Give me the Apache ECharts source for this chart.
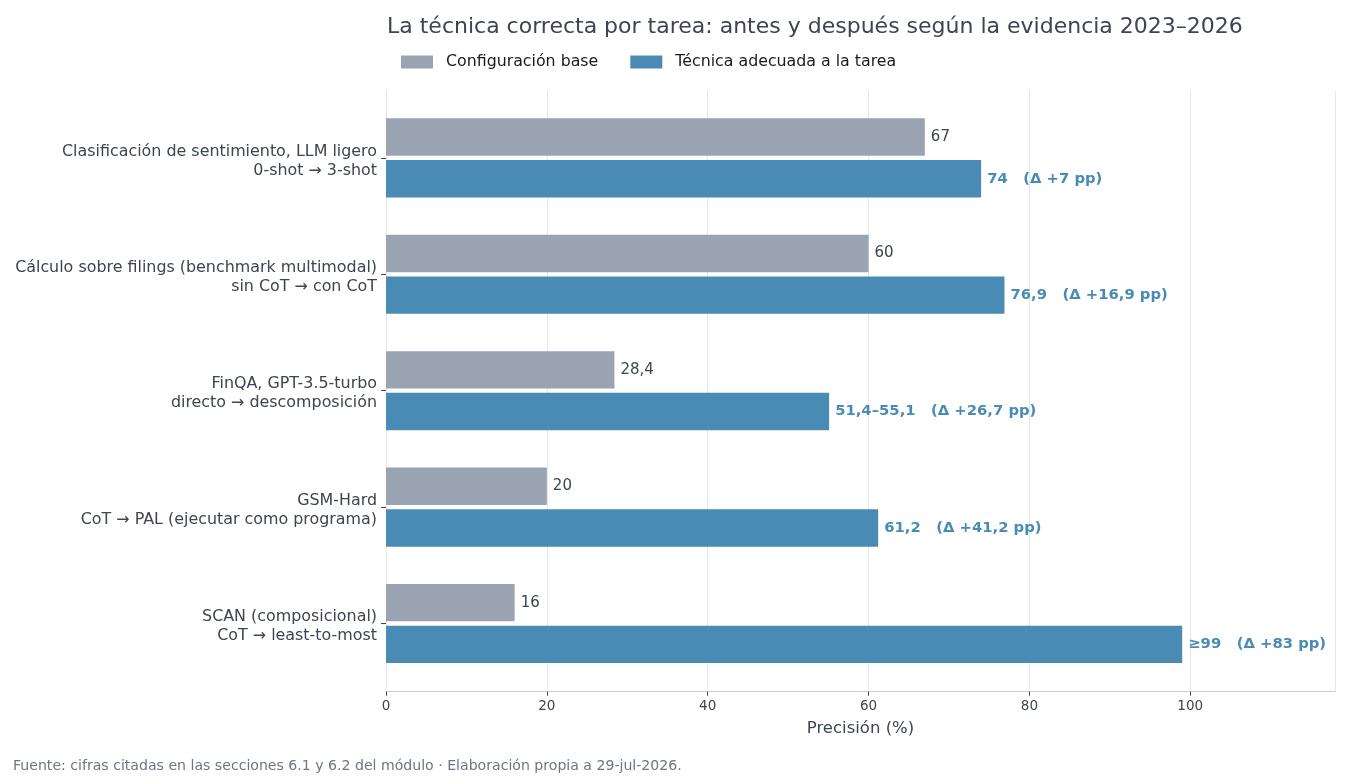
<!DOCTYPE html>
<html>
<head>
<meta charset="utf-8">
<script src="https://cdn.jsdelivr.net/npm/echarts@6/dist/echarts.min.js"></script>
<style>html,body{margin:0;padding:0;background:#fff}#c{width:1350px;height:780px}</style>
</head>
<body>
<div id="c"></div>
<script>
const categories = [
  "Clasificación de sentimiento, LLM ligero\n0-shot → 3-shot",
  "Cálculo sobre filings (benchmark multimodal)\nsin CoT → con CoT",
  "FinQA, GPT-3.5-turbo\ndirecto → descomposición",
  "GSM-Hard\nCoT → PAL (ejecutar como programa)",
  "SCAN (composicional)\nCoT → least-to-most"
];
const baseValues = [67, 60, 28.4, 20, 16];
const techValues = [74, 76.9, 55.1, 61.2, 99];
const baseLabels = ["67", "60", "28,4", "20", "16"];
const techLabels = ["74", "76,9", "51,4–55,1", "61,2", "≥99"];
const deltaLabels = ["+7", "+16,9", "+26,7", "+41,2", "+83"];
const xTicks = [0, 20, 40, 60, 80, 100];

const FONT = "DejaVu Sans";
const TXT = "#3d4452";
const GRAY = "#9aa3b2";
const BLUE = "#4a8bb5";

const chart = echarts.init(document.getElementById('c'));
chart.setOption({
  backgroundColor: '#ffffff',
  textStyle: { fontFamily: FONT },
  animation: false,
  title: {
    text: "La técnica correcta por tarea: antes y después según la evidencia 2023–2026",
    left: 382, top: 11,
    textStyle: { fontFamily: FONT, fontSize: 22, fontWeight: 'normal', color: TXT }
  },
  legend: {
    left: 401, top: 54, padding: 0,
    itemWidth: 32, itemHeight: 13, itemGap: 32,
    icon: 'rect',
    textStyle: { fontFamily: FONT, fontSize: 15.8, color: '#1a1a1a', padding: [0, 0, 0, 8] },
    data: ['Configuración base', 'Técnica adecuada a la tarea']
  },
  grid: [
    { left: 386, right: 15, top: 99.7, height: 582 },
    { left: 386, right: 15, top: 91, bottom: 88.3 }
  ],
  xAxis: [
    { gridIndex: 0, type: 'value', min: 0, max: 118, show: false, splitLine: { show: false } },
    {
      gridIndex: 1, type: 'value', min: 0, max: 118, interval: 20,
      name: 'Precisión (%)', nameLocation: 'middle', nameGap: 29,
      nameTextStyle: { fontFamily: FONT, fontSize: 16.5, color: TXT },
      axisLine: { show: true, lineStyle: { color: '#c9ccd4', width: 1 } },
      axisTick: { show: true, length: 4, lineStyle: { color: TXT } },
      axisLabel: { fontFamily: FONT, fontSize: 13.5, color: TXT, margin: 8, showMaxLabel: false,
        formatter: v => xTicks.includes(v) ? String(v) : '' },
      splitLine: { show: true, lineStyle: { color: '#e6e6ea', width: 1 } }
    }
  ],
  yAxis: [
    {
      gridIndex: 0, type: 'category', inverse: true, data: categories,
      axisLine: { show: false },
      axisTick: { show: true, alignWithLabel: true, length: 5, lineStyle: { color: TXT } },
      axisLabel: {
        margin: 9, align: 'right',
        formatter: v => '{s| }\n' + v.split('\n').map(l => '{a|' + l + '}').join('\n'),
        rich: {
          s: { fontSize: 4, lineHeight: 6 },
          a: { fontFamily: FONT, fontSize: 15.9, color: TXT, lineHeight: 19, align: 'right' }
        }
      }
    },
    { gridIndex: 1, type: 'value', show: false, min: 0, max: 1, splitLine: { show: false } }
  ],
  series: [
    {
      name: 'Configuración base', type: 'bar', xAxisIndex: 0, yAxisIndex: 0,
      data: baseValues, barWidth: 37.4, barGap: '11.5%',
      itemStyle: { color: GRAY },
      label: {
        show: true, position: 'right', distance: 6,
        fontFamily: FONT, fontSize: 15, color: TXT,
        formatter: p => baseLabels[p.dataIndex]
      }
    },
    {
      name: 'Técnica adecuada a la tarea', type: 'bar', xAxisIndex: 0, yAxisIndex: 0,
      data: techValues, barWidth: 37.4, barGap: '11.5%',
      itemStyle: { color: BLUE },
      label: {
        show: true, position: 'right', distance: 6,
        fontFamily: FONT, fontSize: 14.8, fontWeight: 'bold', color: BLUE,
        formatter: p => techLabels[p.dataIndex] + '   (Δ ' + deltaLabels[p.dataIndex] + ' pp)'
      }
    }
  ],
  graphic: [
    { type: 'text', left: 13, top: 759,
      style: { text: 'Fuente: cifras citadas en las secciones 6.1 y 6.2 del módulo · Elaboración propia a 29-jul-2026.',
        font: '14.1px "DejaVu Sans"', fill: '#6b7585' } }
  ]
});
</script>
</body>
</html>
